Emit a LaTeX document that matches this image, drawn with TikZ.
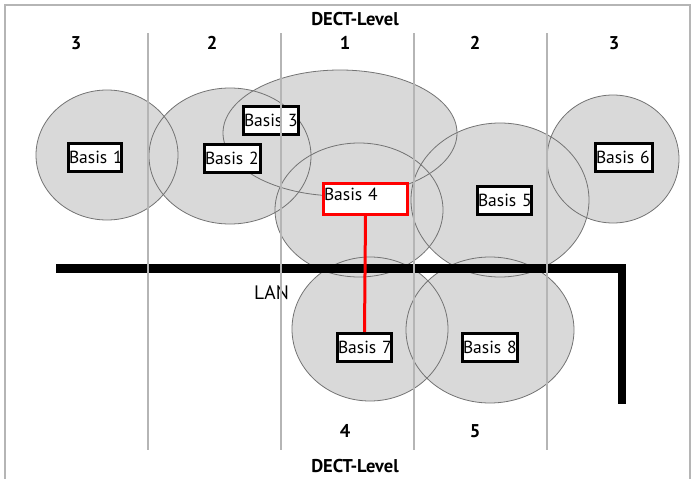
\documentclass[tikz,border=0pt]{standalone}
\usepackage{fontspec}
\setmainfont{PT Sans}
\usepackage{tikz}
\definecolor{cellgray}{rgb}{0.85,0.85,0.85}
\definecolor{rimgray}{rgb}{0.45,0.45,0.45}
\definecolor{gridgray}{rgb}{0.71,0.71,0.71}

\begin{document}
\begin{tikzpicture}[x=1pt,y=-1pt,
    basis/.style={draw=black,line width=3pt,fill=white,inner xsep=0.5pt,inner ysep=0pt,
      minimum height=28pt,align=left,font=\fontsize{17.5}{18}\selectfont},
    level/.style={anchor=base,font=\fontsize{18.5}{20}\selectfont\bfseries},
    cell/.style={fill=cellgray},
    rim/.style={draw=rimgray,line width=0.8pt}]
    \useasboundingbox (0,0) rectangle (691,479);
    \draw[gridgray,line width=2pt] (5,479) -- (5,4.5) -- (689.5,4.5) -- (689.5,479);

    \fill[cell] (107,155) ellipse [x radius=71, y radius=65];
    \fill[cell] (230,156) ellipse [x radius=81, y radius=68];
    \fill[cell] (340,133) ellipse [x radius=117, y radius=63];
    \fill[cell] (359,210) ellipse [x radius=84, y radius=67];
    \fill[cell] (500,200) ellipse [x radius=89, y radius=77];
    \fill[cell] (613,159) ellipse [x radius=66, y radius=64];
    \fill[cell] (370,329) ellipse [x radius=78, y radius=72];
    \fill[cell] (490,330) ellipse [x radius=84, y radius=73];
    \draw[rim] (107,155) ellipse [x radius=71, y radius=65];
    \draw[rim] (230,156) ellipse [x radius=81, y radius=68];
    \draw[rim] (340,133) ellipse [x radius=117, y radius=63];
    \draw[rim] (359,210) ellipse [x radius=84, y radius=67];
    \draw[rim] (500,200) ellipse [x radius=89, y radius=77];
    \draw[rim] (613,159) ellipse [x radius=66, y radius=64];
    \draw[rim] (370,329) ellipse [x radius=78, y radius=72];
    \draw[rim] (490,330) ellipse [x radius=84, y radius=73];

    \draw[line width=8.5pt,miter limit=10] (56,268.5) -- (622,268.5) -- (622,404);
    \node[anchor=base west,inner sep=0pt,font=\fontsize{19.5}{20}\selectfont] (lan) at (254,299) {LAN};

    \node[basis,text width=52pt] (b1) at (95,157.5) {Basis~1};
    \node[basis,text width=55pt] (b2) at (232.5,158.5) {Basis~2};
    \node[basis,text width=54pt] (b3) at (271,120.5) {Basis~3};
    \node[basis,draw=red,text width=83pt,minimum height=31pt,text depth=9pt] (b4) at (365.5,199) {Basis~4};
    \node[basis,text width=53pt] (b5) at (504.5,200.5) {Basis~5};
    \node[basis,text width=56pt] (b6) at (624,157.5) {Basis~6};
    \node[basis,text width=53pt] (b7) at (364.5,347.5) {Basis~7};
    \node[basis,text width=54pt] (b8) at (490,347.5) {Basis~8};
    \draw[red,line width=3pt] (b4.south) -- (b7.north);

    \node[level] (top) at (355,25) {DECT-Level};
    \node[level] (t1) at (76,49) {3};
    \node[level] (t2) at (212,49) {2};
    \node[level] (t3) at (345,49) {1};
    \node[level] (t4) at (475,49) {2};
    \node[level] (t5) at (614,49) {3};
    \node[level] (u1) at (345,437.5) {4};
    \node[level] (u2) at (475,437.5) {5};
    \node[level] (bottom) at (355,472) {DECT-Level};

    \foreach \x in {148,281,414,547}
      \draw[gridgray,line width=1.5pt] (\x,33) -- (\x,450);
  \end{tikzpicture}
\end{document}
